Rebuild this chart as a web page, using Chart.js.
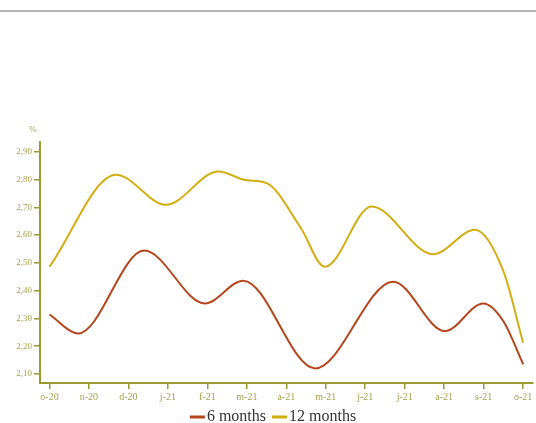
<!DOCTYPE html>
<html>
<head>
<meta charset="utf-8">
<script src="https://cdn.jsdelivr.net/npm/chart.js@4/dist/chart.umd.min.js"></script>
<style>
  html, body { margin: 0; padding: 0; background: #fff; }
  .rule { position: absolute; left: 0; top: 10px; width: 536px; height: 0; border-top: 2px solid #b4b4b4; }
  .wrap { position: absolute; left: 0; top: 0; width: 536px; height: 423px; }
</style>
</head>
<body>
<div class="rule"></div>
<div class="wrap"><canvas id="rates-chart"></canvas></div>
<script>
// month labels (o-20 .. o-21), one tick per month index
const monthLabels = ['o-20', 'n-20', 'd-20', 'j-21', 'f-21', 'm-21', 'a-21', 'm-21', 'j-21', 'j-21', 'a-21', 's-21', 'o-21'];
const yTickValues = [2.1, 2.2, 2.3, 2.4, 2.5, 2.6, 2.7, 2.8, 2.9];

// 6 months series (x = month index)
const sixMonthX = [0, 0.73, 2.40, 3.94, 4.91, 6.73, 8.71, 10.02, 10.99, 11.5, 12];
const sixMonthY = [2.314, 2.246, 2.544, 2.354, 2.436, 2.120, 2.432, 2.254, 2.354, 2.29, 2.135];

// 12 months series
const twelveMonthX = [0, 1.69, 2.95, 4.28, 5.0, 5.5, 6.35, 6.98, 8.16, 9.72, 10.78, 11.5, 12];
const twelveMonthY = [2.486, 2.817, 2.709, 2.829, 2.797, 2.787, 2.63, 2.486, 2.703, 2.531, 2.619, 2.47, 2.212];

const axisColor = '#9a9a2e';
const labelColor = '#a8a050';
const sixColor = '#b5461c';
const twelveColor = '#d2ae12';
const serif = '"Liberation Serif", serif';

function toPoints(xs, ys) {
    return xs.map((x, i) => ({ x: x, y: ys[i] }));
}

// "%" above the y axis
const percentLabel = {
    id: 'percentLabel',
    afterDraw(chart) {
        const y = chart.scales.y;
        const ctx = chart.ctx;
        ctx.save();
        ctx.fillStyle = labelColor;
        ctx.font = '9px ' + serif;
        ctx.textAlign = 'center';
        ctx.textBaseline = 'bottom';
        ctx.fillText('%', y.right - 7, y.top - 8);
        ctx.restore();
    }
};

// legend under the axis, drawn from the datasets
const bottomLegend = {
    id: 'bottomLegend',
    afterDraw(chart) {
        const ctx = chart.ctx;
        const sets = chart.data.datasets;
        const boxW = 15, gapBox = 2, gapItem = 6, cy = 417;
        ctx.save();
        ctx.font = '16px ' + serif;
        const widths = sets.map(ds => boxW + gapBox + ctx.measureText(ds.label).width);
        const total = widths.reduce((a, b) => a + b, 0) + gapItem * (sets.length - 1);
        let x = 273 - total / 2;
        ctx.textBaseline = 'middle';
        ctx.textAlign = 'left';
        sets.forEach((ds, i) => {
            ctx.fillStyle = ds.borderColor;
            ctx.fillRect(x, cy - 1.5, boxW, 3);
            ctx.fillStyle = '#333';
            ctx.fillText(ds.label, x + boxW + gapBox, cy);
            x += widths[i] + gapItem;
        });
        ctx.restore();
    }
};

const ctx = document.getElementById('rates-chart').getContext('2d');
new Chart(ctx, {
    type: 'line',
    data: {
        datasets: [
            {
                label: '6 months',
                data: toPoints(sixMonthX, sixMonthY),
                borderColor: sixColor,
                backgroundColor: sixColor,
                borderWidth: 2,
                pointRadius: 0,
                fill: false,
                cubicInterpolationMode: 'monotone'
            },
            {
                label: '12 months',
                data: toPoints(twelveMonthX, twelveMonthY),
                borderColor: twelveColor,
                backgroundColor: twelveColor,
                borderWidth: 2,
                pointRadius: 0,
                fill: false,
                cubicInterpolationMode: 'monotone'
            }
        ]
    },
    options: {
        responsive: true,
        maintainAspectRatio: false,
        animation: false,
        layout: { padding: { top: 142, right: 3, left: 0, bottom: 20 } },
        plugins: {
            legend: { display: false },
            tooltip: { enabled: false }
        },
        scales: {
            x: {
                type: 'linear',
                min: -0.24,
                max: 12.25,
                afterBuildTicks: (scale) => {
                    scale.ticks = monthLabels.map((_, i) => ({ value: i }));
                },
                afterFit: (scale) => { scale.height = 20; },
                grid: { display: true, drawOnChartArea: false, drawTicks: true, tickLength: 6, color: axisColor, lineWidth: 1.5 },
                border: { display: true, color: axisColor, width: 2 },
                ticks: {
                    color: labelColor,
                    autoSkip: false,
                    maxRotation: 0,
                    padding: 2,
                    font: { family: serif, size: 10 },
                    callback: (value) => monthLabels[value]
                }
            },
            y: {
                min: 2.0675,
                max: 2.935,
                afterBuildTicks: (scale) => {
                    scale.ticks = yTickValues.map(v => ({ value: v }));
                },
                afterFit: (scale) => { scale.width = 40; },
                grid: { display: true, drawOnChartArea: false, drawTicks: true, tickLength: 6, color: axisColor, lineWidth: 1.5 },
                border: { display: true, color: axisColor, width: 2 },
                ticks: {
                    color: labelColor,
                    padding: 2,
                    font: { family: serif, size: 9 },
                    callback: (value) => value.toFixed(2).replace('.', ',')
                }
            }
        }
    },
    plugins: [percentLabel, bottomLegend]
});
</script>
</body>
</html>
